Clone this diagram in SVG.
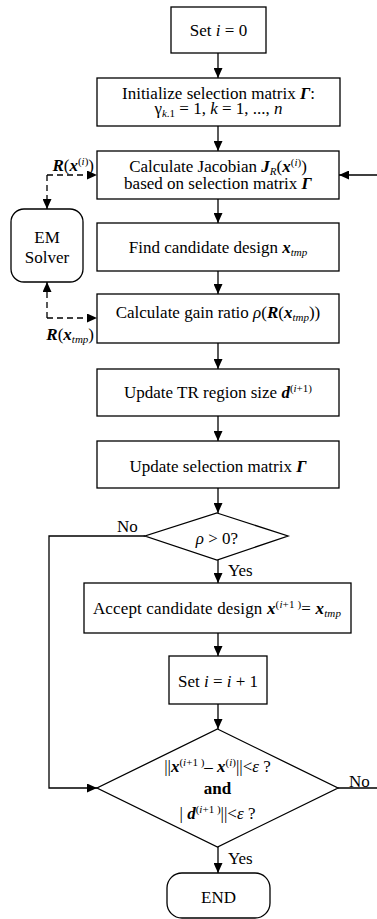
<svg xmlns="http://www.w3.org/2000/svg" width="377" height="919" viewBox="0 0 377 919">
<style>
.box{fill:#fff;stroke:#000;stroke-width:1.3}
.t{font-family:"Liberation Serif","Times New Roman",serif;font-size:17px;fill:#000}
.c{text-anchor:middle}
.e{text-anchor:end}
.bi{font-weight:bold;font-style:italic}
.i{font-style:italic}
.b{font-weight:bold}
.conn{fill:none;stroke:#000;stroke-width:1.3}
.dash{stroke-dasharray:6 4}
</style>
<defs>
<marker id="ah" markerUnits="userSpaceOnUse" markerWidth="10" markerHeight="9" refX="10" refY="4.5" orient="auto">
<path d="M0,0 L10,4.5 L0,9 z" fill="#000"/>
</marker>
</defs>

<g id="connectors">
<line class="conn" x1="218" y1="53" x2="218" y2="78" marker-end="url(#ah)"/>
<line class="conn" x1="218" y1="126" x2="218" y2="151" marker-end="url(#ah)"/>
<line class="conn" x1="218" y1="199" x2="218" y2="223" marker-end="url(#ah)"/>
<line class="conn" x1="218" y1="271" x2="218" y2="294" marker-end="url(#ah)"/>
<line class="conn" x1="218" y1="343" x2="218" y2="369" marker-end="url(#ah)"/>
<line class="conn" x1="218" y1="416" x2="218" y2="441" marker-end="url(#ah)"/>
<line class="conn" x1="218" y1="488" x2="218" y2="513" marker-end="url(#ah)"/>
<line class="conn" x1="218" y1="560" x2="218" y2="583" marker-end="url(#ah)"/>
<line class="conn" x1="218" y1="633" x2="218" y2="656" marker-end="url(#ah)"/>
<line class="conn" x1="218" y1="704" x2="218" y2="729" marker-end="url(#ah)"/>
<line class="conn" x1="218" y1="847" x2="218" y2="873" marker-end="url(#ah)"/>
<path class="conn" d="M145,536 H49 V788 H97" marker-end="url(#ah)"/>
<path class="conn" d="M338,788 H380 V175 H339" marker-end="url(#ah)"/>
<line class="conn dash" x1="47" y1="175" x2="97" y2="175" marker-end="url(#ah)"/>
<line class="conn dash" x1="47" y1="175" x2="47" y2="209" marker-end="url(#ah)"/>
<line class="conn dash" x1="47" y1="318" x2="97" y2="318" marker-end="url(#ah)"/>
<line class="conn dash" x1="47" y1="318" x2="47" y2="282" marker-end="url(#ah)"/>
<text class="t" x="117" y="531.5">No</text>
<text class="t" x="228" y="576">Yes</text>
<text class="t" x="349" y="786.5">No</text>
<text class="t" x="228" y="864">Yes</text>
<text class="t e" x="94" y="171"><tspan class="bi">R</tspan>(<tspan class="bi">x</tspan><tspan font-size="11" dy="-6">(<tspan class="i">i</tspan>)</tspan><tspan dy="6">)</tspan></text>
<text class="t e" x="94" y="340"><tspan class="bi">R</tspan>(<tspan class="bi">x</tspan><tspan class="i" font-size="11" dy="3">tmp</tspan><tspan dy="-3">)</tspan></text>
</g>

<g id="n-start">
<rect class="box" x="171" y="7" width="95" height="46"/>
<text class="t c" x="218.5" y="36">Set <tspan class="i">i</tspan> = 0</text>
</g>

<g id="n-init">
<rect class="box" x="97" y="78" width="243" height="48"/>
<text class="t c" x="218.5" y="98.5">Initialize selection matrix <tspan class="bi">Γ</tspan>:</text>
<text class="t c" x="218.5" y="114">γ<tspan class="i" font-size="11" dy="3">k</tspan><tspan font-size="11">.1</tspan><tspan dy="-3"> = 1, </tspan><tspan class="i">k</tspan> = 1, ..., <tspan class="i">n</tspan></text>
</g>

<g id="n-jacobian">
<rect class="box" x="97" y="151" width="242" height="48"/>
<text class="t c" x="218" y="171.5">Calculate Jacobian <tspan class="bi">J</tspan><tspan class="i" font-size="11" dy="3">R</tspan><tspan dy="-3">(</tspan><tspan class="bi">x</tspan><tspan font-size="11" dy="-6">(<tspan class="i">i</tspan>)</tspan><tspan dy="6">)</tspan></text>
<text class="t c" x="218" y="189">based on selection matrix <tspan class="bi">Γ</tspan></text>
</g>

<g id="n-em">
<rect class="box" x="11" y="209" width="72" height="73" rx="13"/>
<text class="t c" x="47" y="243">EM</text>
<text class="t c" x="47" y="263">Solver</text>
</g>

<g id="n-find">
<rect class="box" x="97" y="223" width="242" height="48"/>
<text class="t c" x="218" y="253">Find candidate design <tspan class="bi">x</tspan><tspan class="i" font-size="11" dy="3">tmp</tspan></text>
</g>

<g id="n-gain">
<rect class="box" x="97" y="294" width="242" height="49"/>
<text class="t c" x="218" y="318">Calculate gain ratio <tspan class="i">ρ</tspan>(<tspan class="bi">R</tspan>(<tspan class="bi">x</tspan><tspan class="i" font-size="11" dy="3">tmp</tspan><tspan dy="-3">))</tspan></text>
</g>

<g id="n-tr">
<rect class="box" x="97" y="369" width="242" height="47"/>
<text class="t c" x="218" y="398">Update TR region size <tspan class="bi">d</tspan><tspan font-size="11" dy="-6">(<tspan class="i">i</tspan>+1)</tspan></text>
</g>

<g id="n-update">
<rect class="box" x="97" y="441" width="242" height="47"/>
<text class="t c" x="218" y="471.5">Update selection matrix <tspan class="bi">Γ</tspan></text>
</g>

<g id="n-dec1">
<polygon class="box" points="217,513 288,536 217,560 145,536"/>
<text class="t c" x="217" y="544"><tspan class="i">ρ</tspan> &gt; 0?</text>
</g>

<g id="n-accept">
<rect class="box" x="84" y="583" width="267" height="50"/>
<text class="t c" x="217" y="614" letter-spacing="0.15">Accept candidate design <tspan class="bi">x</tspan><tspan font-size="11" dy="-6">(<tspan class="i">i</tspan>+1 )</tspan><tspan dy="6">= </tspan><tspan class="bi">x</tspan><tspan class="i" font-size="11" dy="3">tmp</tspan></text>
</g>

<g id="n-inc">
<rect class="box" x="169" y="656" width="98" height="48"/>
<text class="t c" x="218" y="687">Set <tspan class="i">i</tspan> = <tspan class="i">i</tspan> + 1</text>
</g>

<g id="n-dec2">
<polygon class="box" points="217.5,729 338,788 217.5,847 97,788"/>
<text class="t c" x="217.5" y="771.5">||<tspan class="bi">x</tspan><tspan font-size="11" dy="-6">(<tspan class="i">i</tspan>+1 )</tspan><tspan dy="6">– </tspan><tspan class="bi">x</tspan><tspan font-size="11" dy="-6">(<tspan class="i">i</tspan>)</tspan><tspan dy="6">||&lt;</tspan><tspan class="i">ε</tspan> ?</text>
<text class="t c b" x="217.5" y="794">and</text>
<text class="t c" x="217.5" y="819">| <tspan class="bi">d</tspan><tspan font-size="11" dy="-6">(<tspan class="i">i</tspan>+1 )</tspan><tspan dy="6">||&lt;</tspan><tspan class="i">ε</tspan> ?</text>
</g>

<g id="n-end">
<rect class="box" x="167" y="873" width="103" height="45" rx="15"/>
<text class="t c" x="218.5" y="903">END</text>
</g>
</svg>
